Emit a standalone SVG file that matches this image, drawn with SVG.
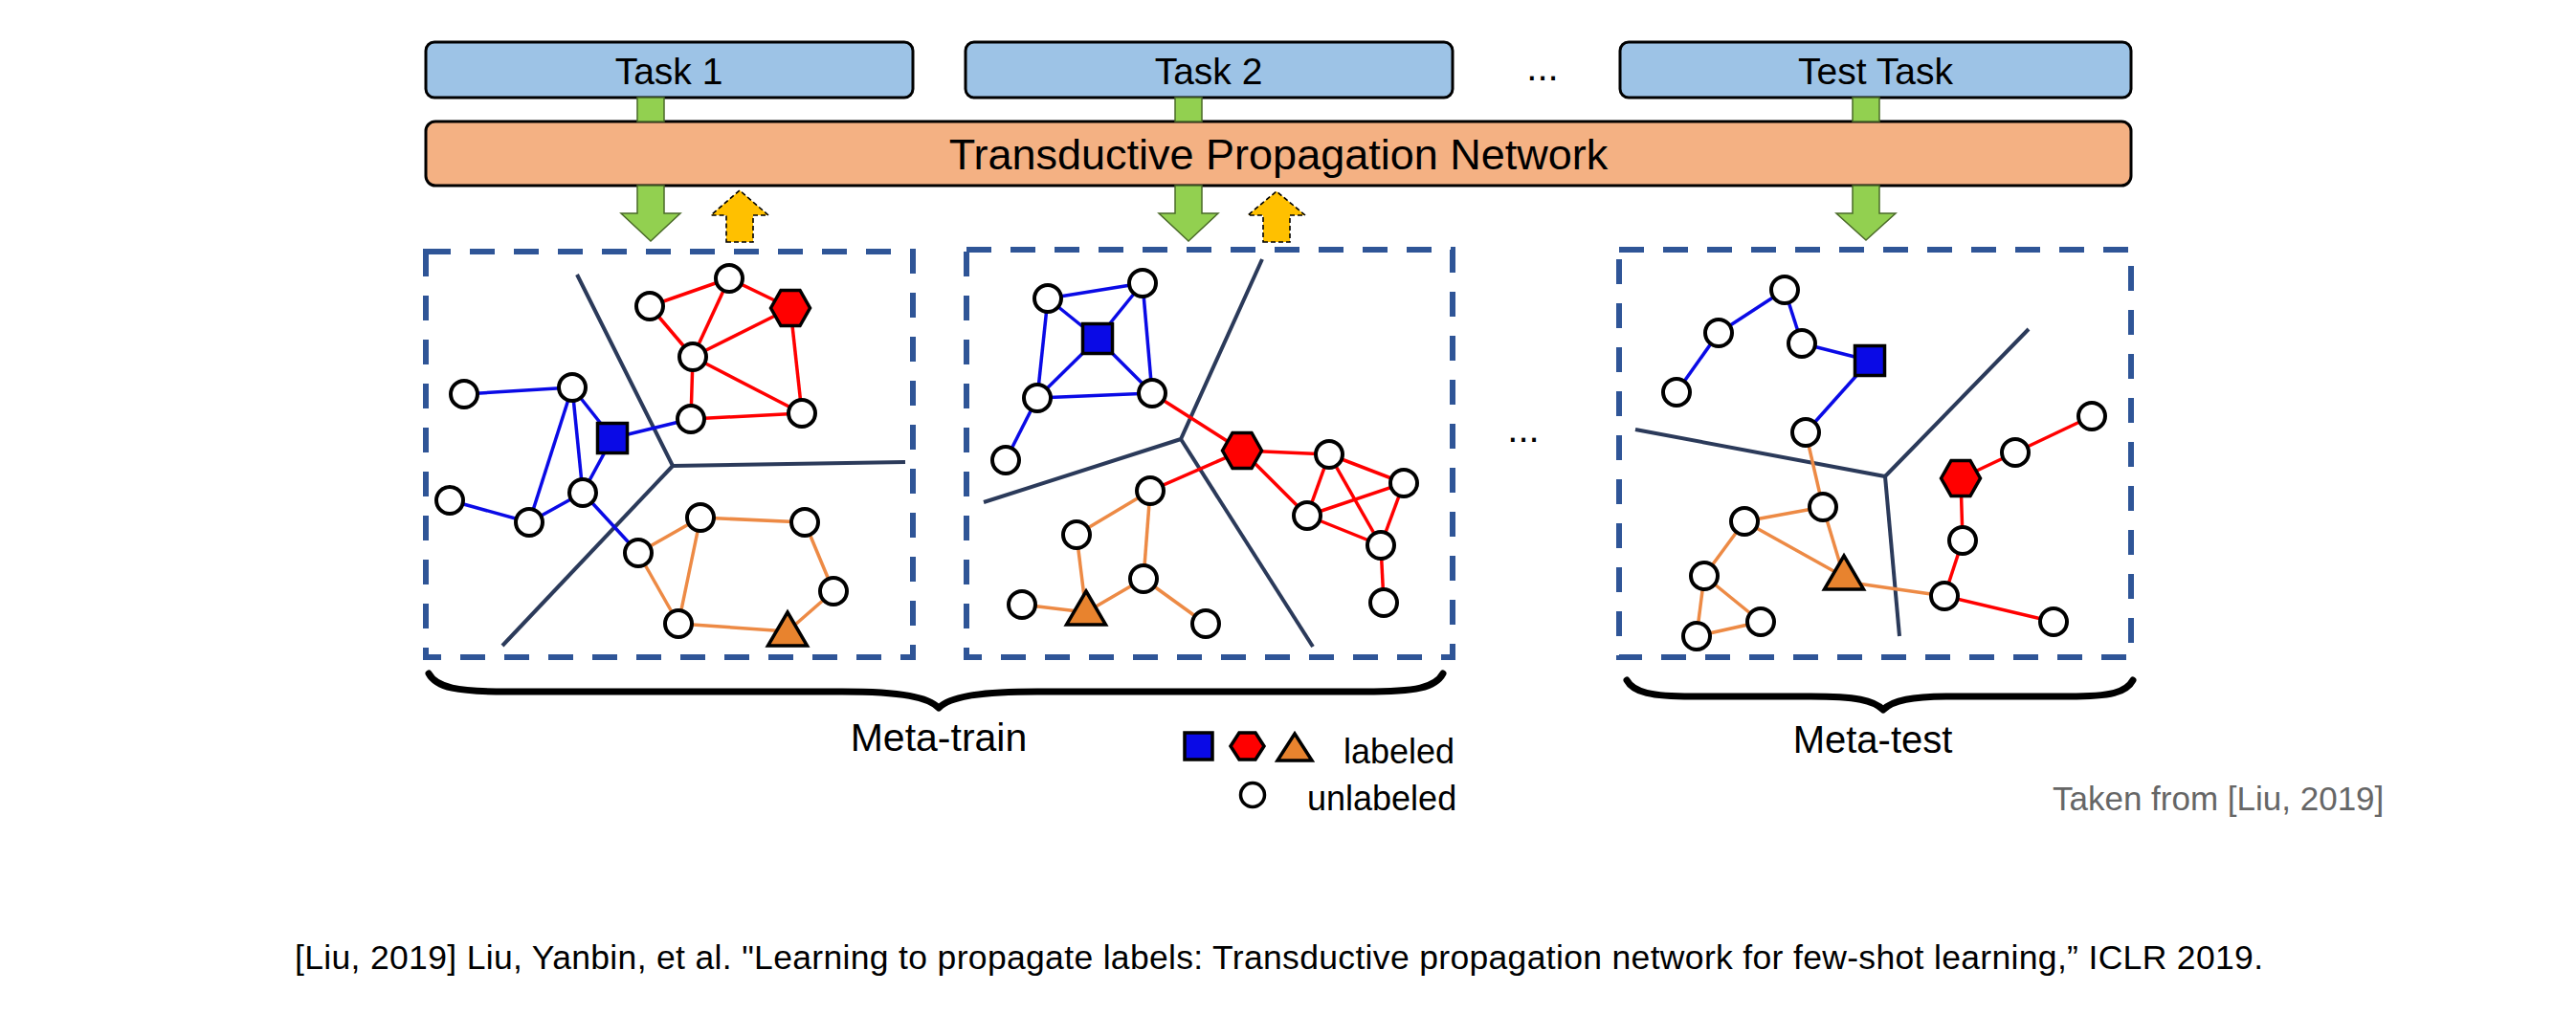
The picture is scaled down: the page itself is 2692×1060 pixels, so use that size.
<svg xmlns="http://www.w3.org/2000/svg" xmlns:xlink="http://www.w3.org/1999/xlink" width="2692" height="1060" viewBox="0 0 2692 1060">
<style>
text{font-family:"Liberation Sans",Arial,Helvetica,sans-serif;fill:#000}
.task{fill:#9DC3E6;stroke:#000;stroke-width:3}
.tpn{fill:#F4B183;stroke:#000;stroke-width:3}
.green{fill:#92D050;stroke:#4a6a28;stroke-width:1.5}
.yellow{fill:#FFC000;stroke:#000;stroke-width:1.6;stroke-dasharray:5 3}
.frame{fill:none;stroke:#2F5597;stroke-width:6;stroke-dasharray:26 20}
.vor{stroke:#2B3A5A;stroke-width:4;fill:none}
.eb{stroke:#0A0AE6;stroke-width:3.5}
.er{stroke:#FF0000;stroke-width:3.5}
.eo{stroke:#ED8A45;stroke-width:3.5}
.u{fill:#fff;stroke:#000;stroke-width:4}
.sq{fill:#0A0AE6;stroke:#000;stroke-width:3.5}
.hx{fill:#FF0000;stroke:#000;stroke-width:3.5}
.tr{fill:#E8832E;stroke:#000;stroke-width:3.5}
.brace{fill:none;stroke:#000;stroke-width:7;stroke-linecap:round;stroke-linejoin:round}
</style>
<defs>
<path id="hex" d="M-20.5,0 L-10,-18.5 L10,-18.5 L20.5,0 L10,18.5 L-10,18.5 Z"/>
<path id="tri" d="M0,-23 L20.5,12 L-20.5,12 Z"/>
<rect id="sqr" x="-15.5" y="-15.5" width="31" height="31"/>
</defs>

<!-- top tasks -->
<g id="task1"><rect class="task" x="445" y="44" width="509" height="58" rx="9"/><text x="699" y="88" font-size="39" text-anchor="middle">Task 1</text></g>
<g id="task2"><rect class="task" x="1009" y="44" width="509" height="58" rx="9"/><text x="1263" y="88" font-size="39" text-anchor="middle">Task 2</text></g>
<g id="testtask"><rect class="task" x="1693" y="44" width="534" height="58" rx="9"/><text x="1960" y="88" font-size="39" text-anchor="middle">Test Task</text></g>
<text x="1612" y="84" font-size="40" text-anchor="middle">...</text>

<g id="tpn"><rect class="tpn" x="445" y="127" width="1782" height="67" rx="10"/><text x="1336" y="177" font-size="45" text-anchor="middle">Transductive Propagation Network</text></g>

<!-- arrows -->
<g id="connectors-top">
<rect class="green" x="666" y="102" width="28" height="25"/>
<rect class="green" x="1228" y="102" width="28" height="25"/>
<rect class="green" x="1936" y="102" width="28" height="25"/>
<path class="green" d="M666,194 L694,194 L694,223 L711,223 L680,252 L649,223 L666,223 Z"/>
<path class="green" d="M1228,194 L1256,194 L1256,223 L1273,223 L1242,252 L1211,223 L1228,223 Z"/>
<path class="green" d="M1936,194 L1964,194 L1964,223 L1981,223 L1950,251 L1919,223 L1936,223 Z"/>
<path class="yellow" d="M759,253 L787,253 L787,225 L803,225 L773,199 L743,225 L759,225 Z"/>
<path class="yellow" d="M1320,253 L1348,253 L1348,225 L1364,225 L1334,200 L1304,225 L1320,225 Z"/>
</g>

<!-- frames -->
<rect class="frame" x="445" y="263" width="509" height="424"/>
<rect class="frame" x="1010" y="261" width="508" height="426"/>
<rect class="frame" x="1692" y="261" width="535" height="426"/>

<text x="1592" y="462" font-size="40" text-anchor="middle">...</text>

<!-- voronoi boundaries -->
<g id="boundaries">
<polyline class="vor" points="603,287 703,487 946,483"/>
<line class="vor" x1="703" y1="487" x2="525" y2="675"/>
<polyline class="vor" points="1319,271 1234,459 1028,525"/>
<line class="vor" x1="1234" y1="459" x2="1372" y2="676"/>
<polyline class="vor" points="1709,449 1970,498 2120,344"/>
<line class="vor" x1="1970" y1="498" x2="1985" y2="665"/>
</g>

<!-- graph edges -->
<g id="edges">
<!-- box 1 -->
<line class="er" x1="679" y1="320" x2="762" y2="291"/>
<line class="er" x1="762" y1="291" x2="826" y2="322"/>
<line class="er" x1="679" y1="320" x2="724" y2="373"/>
<line class="er" x1="762" y1="291" x2="724" y2="373"/>
<line class="er" x1="724" y1="373" x2="826" y2="322"/>
<line class="er" x1="724" y1="373" x2="722" y2="438"/>
<line class="er" x1="724" y1="373" x2="838" y2="432"/>
<line class="er" x1="826" y1="322" x2="838" y2="432"/>
<line class="er" x1="722" y1="438" x2="838" y2="432"/>
<line class="eb" x1="485" y1="412" x2="598" y2="405"/>
<line class="eb" x1="598" y1="405" x2="640" y2="458"/>
<line class="eb" x1="598" y1="405" x2="553" y2="546"/>
<line class="eb" x1="598" y1="405" x2="609" y2="515"/>
<line class="eb" x1="470" y1="523" x2="553" y2="546"/>
<line class="eb" x1="553" y1="546" x2="609" y2="515"/>
<line class="eb" x1="609" y1="515" x2="640" y2="458"/>
<line class="eb" x1="640" y1="458" x2="722" y2="438"/>
<line class="eb" x1="609" y1="515" x2="667" y2="578"/>
<line class="eo" x1="667" y1="578" x2="732" y2="541"/>
<line class="eo" x1="732" y1="541" x2="841" y2="546"/>
<line class="eo" x1="841" y1="546" x2="871" y2="618"/>
<line class="eo" x1="871" y1="618" x2="823" y2="660"/>
<line class="eo" x1="823" y1="660" x2="709" y2="652"/>
<line class="eo" x1="709" y1="652" x2="667" y2="578"/>
<line class="eo" x1="732" y1="541" x2="709" y2="652"/>
<!-- box 2 -->
<line class="eb" x1="1095" y1="312" x2="1194" y2="296"/>
<line class="eb" x1="1095" y1="312" x2="1147" y2="354"/>
<line class="eb" x1="1194" y1="296" x2="1147" y2="354"/>
<line class="eb" x1="1095" y1="312" x2="1084" y2="416"/>
<line class="eb" x1="1194" y1="296" x2="1204" y2="411"/>
<line class="eb" x1="1147" y1="354" x2="1084" y2="416"/>
<line class="eb" x1="1147" y1="354" x2="1204" y2="411"/>
<line class="eb" x1="1084" y1="416" x2="1204" y2="411"/>
<line class="eb" x1="1084" y1="416" x2="1051" y2="481"/>
<line class="er" x1="1204" y1="411" x2="1298" y2="471"/>
<line class="er" x1="1298" y1="471" x2="1389" y2="475"/>
<line class="er" x1="1298" y1="471" x2="1202" y2="513"/>
<line class="er" x1="1298" y1="471" x2="1366" y2="539"/>
<line class="er" x1="1389" y1="475" x2="1366" y2="539"/>
<line class="er" x1="1389" y1="475" x2="1467" y2="505"/>
<line class="er" x1="1389" y1="475" x2="1443" y2="570"/>
<line class="er" x1="1366" y1="539" x2="1467" y2="505"/>
<line class="er" x1="1366" y1="539" x2="1443" y2="570"/>
<line class="er" x1="1467" y1="505" x2="1443" y2="570"/>
<line class="er" x1="1443" y1="570" x2="1446" y2="630"/>
<line class="eo" x1="1202" y1="513" x2="1125" y2="559"/>
<line class="eo" x1="1202" y1="513" x2="1195" y2="605"/>
<line class="eo" x1="1125" y1="559" x2="1135" y2="640"/>
<line class="eo" x1="1135" y1="640" x2="1068" y2="632"/>
<line class="eo" x1="1135" y1="640" x2="1195" y2="605"/>
<line class="eo" x1="1195" y1="605" x2="1260" y2="652"/>
<!-- box 3 -->
<line class="eb" x1="1752" y1="410" x2="1796" y2="348"/>
<line class="eb" x1="1796" y1="348" x2="1865" y2="303"/>
<line class="eb" x1="1865" y1="303" x2="1883" y2="359"/>
<line class="eb" x1="1883" y1="359" x2="1954" y2="377"/>
<line class="eb" x1="1954" y1="377" x2="1887" y2="452"/>
<line class="eo" x1="1887" y1="452" x2="1905" y2="530"/>
<line class="eo" x1="1905" y1="530" x2="1823" y2="545"/>
<line class="eo" x1="1905" y1="530" x2="1927" y2="603"/>
<line class="eo" x1="1823" y1="545" x2="1927" y2="603"/>
<line class="eo" x1="1823" y1="545" x2="1781" y2="602"/>
<line class="eo" x1="1781" y1="602" x2="1840" y2="650"/>
<line class="eo" x1="1781" y1="602" x2="1773" y2="665"/>
<line class="eo" x1="1840" y1="650" x2="1773" y2="665"/>
<line class="eo" x1="1927" y1="608" x2="2032" y2="623"/>
<line class="er" x1="2186" y1="435" x2="2106" y2="473"/>
<line class="er" x1="2106" y1="473" x2="2049" y2="500"/>
<line class="er" x1="2049" y1="500" x2="2051" y2="565"/>
<line class="er" x1="2051" y1="565" x2="2032" y2="623"/>
<line class="er" x1="2032" y1="623" x2="2146" y2="650"/>
</g>

<!-- box 1 nodes -->
<g id="b1-A"><circle class="u" cx="762" cy="291" r="14"/></g>
<g id="b1-B"><circle class="u" cx="679" cy="320" r="14"/></g>
<g id="b1-hex"><use href="#hex" class="hx" transform="translate(826,322)"/></g>
<g id="b1-C"><circle class="u" cx="724" cy="373" r="14"/></g>
<g id="b1-D"><circle class="u" cx="722" cy="438" r="14"/></g>
<g id="b1-E"><circle class="u" cx="838" cy="432" r="14"/></g>
<g id="b1-sq"><use href="#sqr" class="sq" transform="translate(640,458)"/></g>
<g id="b1-F"><circle class="u" cx="598" cy="405" r="14"/></g>
<g id="b1-G"><circle class="u" cx="485" cy="412" r="14"/></g>
<g id="b1-H"><circle class="u" cx="609" cy="515" r="14"/></g>
<g id="b1-I"><circle class="u" cx="470" cy="523" r="14"/></g>
<g id="b1-J"><circle class="u" cx="553" cy="546" r="14"/></g>
<g id="b1-K"><circle class="u" cx="667" cy="578" r="14"/></g>
<g id="b1-L"><circle class="u" cx="732" cy="541" r="14"/></g>
<g id="b1-M"><circle class="u" cx="841" cy="546" r="14"/></g>
<g id="b1-N"><circle class="u" cx="871" cy="618" r="14"/></g>
<g id="b1-O"><circle class="u" cx="709" cy="652" r="14"/></g>
<g id="b1-tri"><use href="#tri" class="tr" transform="translate(823,663)"/></g>

<!-- box 2 nodes -->
<g id="b2-P1"><circle class="u" cx="1095" cy="312" r="14"/></g>
<g id="b2-P2"><circle class="u" cx="1194" cy="296" r="14"/></g>
<g id="b2-sq"><use href="#sqr" class="sq" transform="translate(1147,354)"/></g>
<g id="b2-P3"><circle class="u" cx="1084" cy="416" r="14"/></g>
<g id="b2-P4"><circle class="u" cx="1204" cy="411" r="14"/></g>
<g id="b2-P5"><circle class="u" cx="1051" cy="481" r="14"/></g>
<g id="b2-hex"><use href="#hex" class="hx" transform="translate(1298,471)"/></g>
<g id="b2-R1"><circle class="u" cx="1389" cy="475" r="14"/></g>
<g id="b2-R2"><circle class="u" cx="1467" cy="505" r="14"/></g>
<g id="b2-R3"><circle class="u" cx="1366" cy="539" r="14"/></g>
<g id="b2-R4"><circle class="u" cx="1443" cy="570" r="14"/></g>
<g id="b2-R5"><circle class="u" cx="1446" cy="630" r="14"/></g>
<g id="b2-O1"><circle class="u" cx="1202" cy="513" r="14"/></g>
<g id="b2-O2"><circle class="u" cx="1125" cy="559" r="14"/></g>
<g id="b2-O3"><circle class="u" cx="1195" cy="605" r="14"/></g>
<g id="b2-O4"><circle class="u" cx="1068" cy="632" r="14"/></g>
<g id="b2-O5"><circle class="u" cx="1260" cy="652" r="14"/></g>
<g id="b2-tri"><use href="#tri" class="tr" transform="translate(1135,641)"/></g>

<!-- box 3 nodes -->
<g id="b3-T1"><circle class="u" cx="1865" cy="303" r="14"/></g>
<g id="b3-T2"><circle class="u" cx="1796" cy="348" r="14"/></g>
<g id="b3-T3"><circle class="u" cx="1883" cy="359" r="14"/></g>
<g id="b3-sq"><use href="#sqr" class="sq" transform="translate(1954,377)"/></g>
<g id="b3-T4"><circle class="u" cx="1752" cy="410" r="14"/></g>
<g id="b3-T5"><circle class="u" cx="1887" cy="452" r="14"/></g>
<g id="b3-hex"><use href="#hex" class="hx" transform="translate(2049,500)"/></g>
<g id="b3-U1"><circle class="u" cx="2106" cy="473" r="14"/></g>
<g id="b3-U2"><circle class="u" cx="2186" cy="435" r="14"/></g>
<g id="b3-U3"><circle class="u" cx="2051" cy="565" r="14"/></g>
<g id="b3-U4"><circle class="u" cx="2032" cy="623" r="14"/></g>
<g id="b3-U5"><circle class="u" cx="2146" cy="650" r="14"/></g>
<g id="b3-V1"><circle class="u" cx="1905" cy="530" r="14"/></g>
<g id="b3-V2"><circle class="u" cx="1823" cy="545" r="14"/></g>
<g id="b3-V3"><circle class="u" cx="1781" cy="602" r="14"/></g>
<g id="b3-V4"><circle class="u" cx="1840" cy="650" r="14"/></g>
<g id="b3-V5"><circle class="u" cx="1773" cy="665" r="14"/></g>
<g id="b3-tri"><use href="#tri" class="tr" transform="translate(1927,604)"/></g>

<!-- braces -->
<path class="brace" d="M448,704 C456,719 478,723 530,723 L880,723 C944,723 970,729 981,740 C992,729 1020,723 1084,723 L1426,723 C1480,723 1500,719 1508,704"/>
<text x="981" y="785" font-size="41" text-anchor="middle">Meta-train</text>
<path class="brace" d="M1700,711 C1707,724 1726,728 1768,728 L1892,728 C1940,728 1958,732 1968,742 C1978,732 1996,728 2044,728 L2162,728 C2206,728 2222,724 2229,711"/>
<text x="1957" y="787" font-size="40" text-anchor="middle">Meta-test</text>

<!-- legend -->
<g id="legend">
<rect class="sq" x="1238" y="766" width="29" height="28"/>
<path class="hx" d="M1286,780 L1295,766 L1312,766 L1321,780 L1312,794 L1295,794 Z"/>
<path class="tr" d="M1353,767 L1371,795 L1335,795 Z"/>
<text x="1404" y="798" font-size="36">labeled</text>
<circle cx="1309" cy="831" r="12.5" fill="#fff" stroke="#000" stroke-width="3.5"/>
<text x="1366" y="847" font-size="36">unlabeled</text>
</g>

<text x="2145" y="847" font-size="35" style="fill:#666">Taken from [Liu, 2019]</text>
<text x="308" y="1013" font-size="35.5" textLength="2057">[Liu, 2019] Liu, Yanbin, et al. "Learning to propagate labels: Transductive propagation network for few-shot learning,” ICLR 2019.</text>
</svg>
